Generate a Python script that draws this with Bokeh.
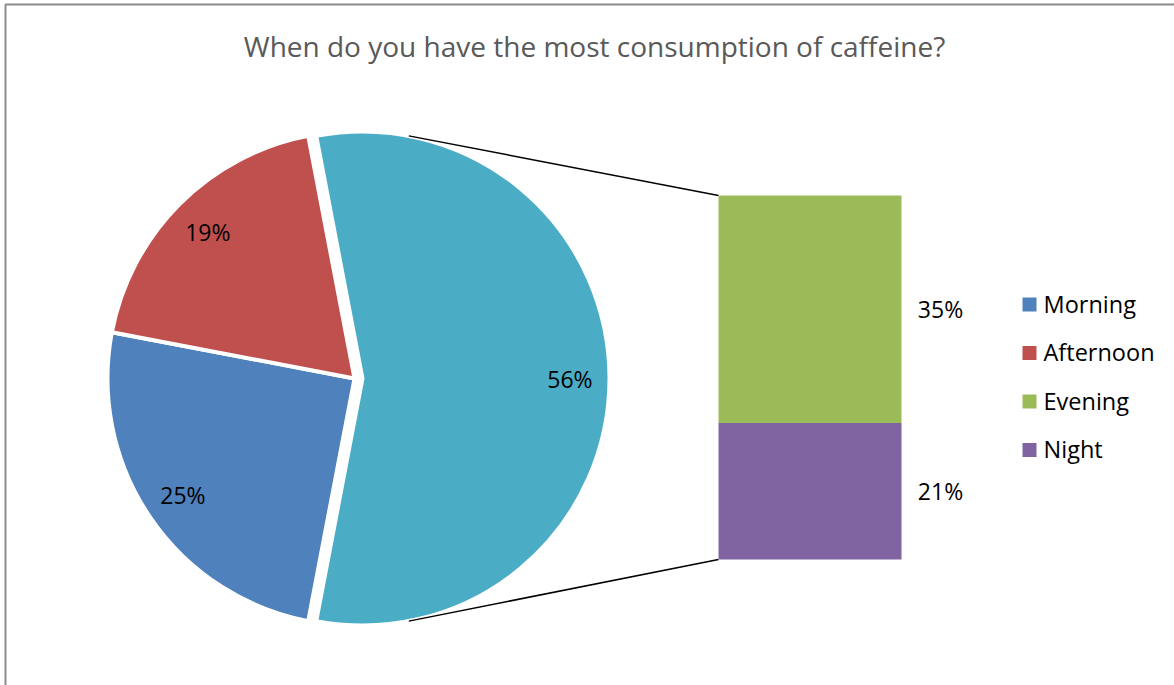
import math
from bokeh.plotting import figure
from bokeh.models import Range1d
from bokeh.core.properties import value
from bokeh.embed import file_html
from bokeh.resources import INLINE

# ---------------- data ----------------
title = "When do you have the most consumption of caffeine?"
categories = ["Morning", "Afternoon", "Evening", "Night"]
percents = [25, 19, 35, 21]
colors = ["#4F81BD", "#C0504D", "#9BBB59", "#8064A2"]
n_pie = 2                      # first two categories stay in the pie
other_color = "#4BACC6"

# ---------------- layout ----------------
W, H = 1174, 685
FONT = "Open Sans"


def Y(y):
    return H - y


p = figure(width=W, height=H, x_range=Range1d(0, W), y_range=Range1d(0, H),
           output_backend="svg", toolbar_location=None, min_border=0)
p.axis.visible = False
p.grid.visible = False
p.outline_line_color = None
p.background_fill_color = "white"
p.border_fill_color = "white"

# chart border (only left/top visible in the crop)
p.line([5, 5, W + 10], [Y(H + 10), Y(4), Y(4)], line_color="#8c8c8c", line_width=2)

# title
p.text([594], [Y(45)], text=[title], text_font=value(FONT), text_font_size="28px",
       text_color="#595959", text_align="center", text_baseline="middle")

# ---------------- pie ----------------
cx, cy, r = 354, 378, 247
explode = 8
total = sum(percents)
other_pct = sum(percents[n_pie:])
half = other_pct / total * math.pi

# other slice (exploded to the right), centred on 3 o'clock
ox = cx + explode
p.wedge(x=[ox], y=[Y(cy)], radius=r, start_angle=-half, end_angle=half,
        fill_color=other_color, line_color="white", line_width=4)
lab_r = 0.84 * r
p.text([ox + lab_r], [Y(cy)], text=[f"{other_pct}%"], text_font=value(FONT),
       text_font_size="23px", text_color="black", text_align="center", text_baseline="middle")

# remaining slices, clockwise from the bottom end of the other slice
end = 2 * math.pi - half
for i in range(n_pie):
    span = percents[i] / total * 2 * math.pi
    start = end - span
    p.wedge(x=[cx], y=[Y(cy)], radius=r, start_angle=start, end_angle=end,
            fill_color=colors[i], line_color="white", line_width=4)
    mid = (start + end) / 2
    p.text([cx + lab_r * math.cos(mid)], [Y(cy) + lab_r * math.sin(mid)],
           text=[f"{percents[i]}%"], text_font=value(FONT), text_font_size="23px",
           text_color="black", text_align="center", text_baseline="middle")
    end = start

# ---------------- bar of pie ----------------
bx0, bx1 = 718, 901
btop, bbot = 195, 559
scale = (bbot - btop) / other_pct
ytop = btop
for i in range(n_pie, len(categories)):
    h = percents[i] * scale
    p.quad(left=[bx0], right=[bx1], top=[Y(ytop)], bottom=[Y(ytop + h)],
           fill_color=colors[i], line_color=None)
    p.text([940], [Y(ytop + h / 2)], text=[f"{percents[i]}%"], text_font=value(FONT),
           text_font_size="23px", text_color="black", text_align="center",
           text_baseline="middle")
    ytop += h

# connector lines
ca = math.pi - half
p.line([ox + r * math.cos(ca), bx0], [Y(cy) + r * math.sin(ca), Y(btop)],
       line_color="black", line_width=1.5)
p.line([ox + r * math.cos(ca), bx0], [Y(cy) - r * math.sin(ca), Y(bbot)],
       line_color="black", line_width=1.5)

# ---------------- legend ----------------
leg_y0, leg_dy = 304, 48.5
for i, cat in enumerate(categories):
    yy = leg_y0 + i * leg_dy
    p.quad(left=[1022], right=[1036], top=[Y(yy - 7)], bottom=[Y(yy + 7)],
           fill_color=colors[i], line_color=None)
    p.text([1043], [Y(yy - 1)], text=[cat], text_font=value(FONT), text_font_size="23.5px",
           text_color="black", text_align="left", text_baseline="middle")

open("out.html", "w").write(file_html(p, INLINE))
